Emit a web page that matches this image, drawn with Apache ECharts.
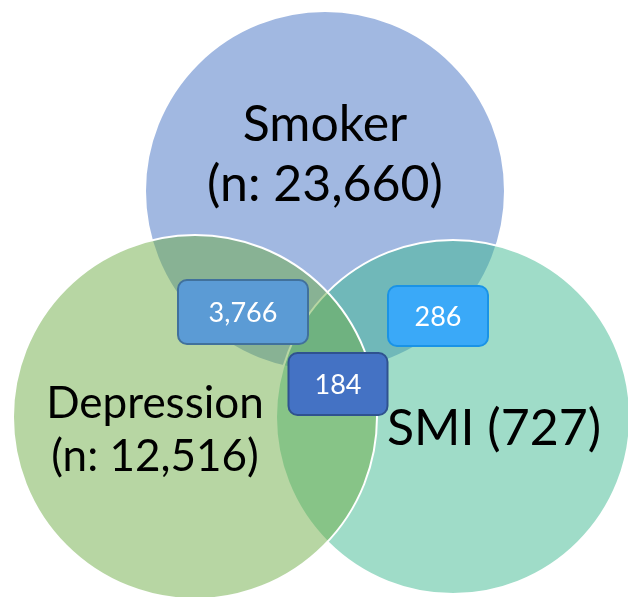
<!DOCTYPE html>
<html>
<head>
<meta charset="utf-8">
<script src="https://cdn.jsdelivr.net/npm/echarts@6/dist/echarts.min.js"></script>
<style>
  html, body { margin: 0; padding: 0; background: #fff; }
  #main { width: 628px; height: 597px; }
</style>
</head>
<body>
<div id="main"></div>
<script>
// sets (drawn in this order: Smoker, SMI, Depression)
var setNames = ['Smoker', 'SMI', 'Depression'];
var setCenterX = [325, 453, 195];
var setCenterY = [191, 417, 417];
var setRadius = [180, 177, 182];
var setColors = ['rgba(68,114,196,0.5)', 'rgba(64,185,145,0.5)', 'rgba(112,173,71,0.5)'];

// set labels
var labelText = ['Smoker\n(n: 23,660)', 'SMI (727)', 'Depression\n(n: 12,516)'];
var labelX = [325, 494, 155];
var labelY = [155, 429, 430];
var labelSize = [50, 50, 44];
var labelLine = [60, 60, 53];

// overlap counts
var overlapValues = ['3,766', '286', '184'];
var overlapX = [243, 438, 338];
var overlapY = [312, 316, 384];
var overlapW = [130, 100, 99];
var overlapH = [64, 60, 62];
var overlapFill = ['#5B9BD5', '#3AA9F8', '#4472C4'];
var overlapBorder = ['#41719C', '#1A93E6', '#2F528F'];

var circleData = setNames.map(function (n, i) {
    return [setCenterX[i], setCenterY[i], setRadius[i], i];
});
var labelData = labelText.map(function (t, i) {
    return [labelX[i], labelY[i], i];
});
var boxData = overlapValues.map(function (v, i) {
    return [overlapX[i], overlapY[i], overlapW[i], overlapH[i], i];
});

var myChart = echarts.init(document.getElementById('main'));
myChart.setOption({
    animation: false,
    grid: {left: 0, right: 0, top: 0, bottom: 0},
    xAxis: {type: 'value', min: 0, max: 628, show: false},
    yAxis: {type: 'value', min: 0, max: 597, inverse: true, show: false},
    series: [
        {
            type: 'custom',
            data: circleData,
            renderItem: function (params, api) {
                var c = api.coord([api.value(0), api.value(1)]);
                var r = api.size([api.value(2), api.value(2)])[0];
                return {
                    type: 'circle',
                    shape: {cx: c[0], cy: c[1], r: r},
                    style: {fill: setColors[api.value(3)], stroke: '#fff', lineWidth: 2}
                };
            }
        },
        {
            type: 'custom',
            data: labelData,
            z: 3,
            renderItem: function (params, api) {
                var c = api.coord([api.value(0), api.value(1)]);
                var i = api.value(2);
                return {
                    type: 'text',
                    style: {
                        x: c[0], y: c[1],
                        text: labelText[i],
                        fill: '#000',
                        fontFamily: 'Lato',
                        fontSize: labelSize[i],
                        lineHeight: labelLine[i],
                        align: 'center',
                        verticalAlign: 'middle'
                    }
                };
            }
        },
        {
            type: 'custom',
            data: boxData,
            z: 4,
            renderItem: function (params, api) {
                var c = api.coord([api.value(0), api.value(1)]);
                var s = api.size([api.value(2), api.value(3)]);
                var i = api.value(4);
                return {
                    type: 'group',
                    children: [{
                        type: 'rect',
                        shape: {x: c[0] - s[0] / 2, y: c[1] - s[1] / 2, width: s[0], height: s[1], r: 9},
                        style: {fill: overlapFill[i], stroke: overlapBorder[i], lineWidth: 2}
                    }, {
                        type: 'text',
                        style: {
                            x: c[0], y: c[1] + 1,
                            text: overlapValues[i],
                            fill: '#fff',
                            fontFamily: 'Lato',
                            fontSize: 27,
                            align: 'center',
                            verticalAlign: 'middle'
                        }
                    }]
                };
            }
        }
    ]
});
</script>
</body>
</html>
